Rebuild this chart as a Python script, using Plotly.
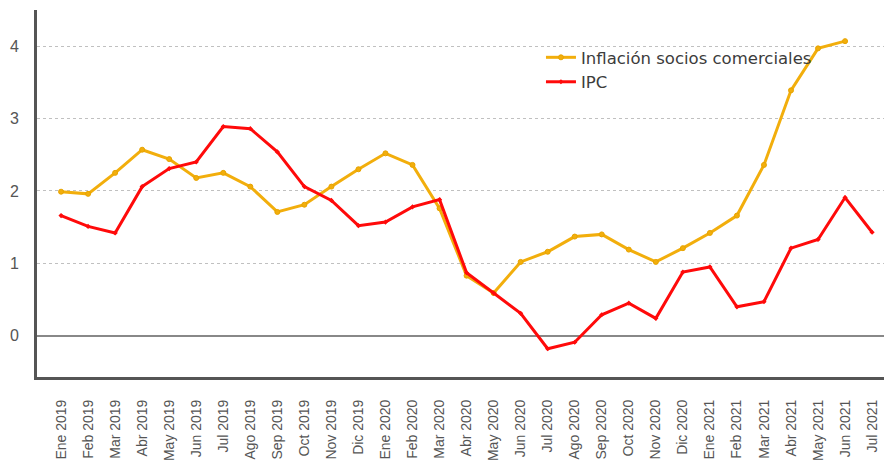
import plotly.graph_objects as go

meses = ["Ene 2019", "Feb 2019", "Mar 2019", "Abr 2019", "May 2019", "Jun 2019",
         "Jul 2019", "Ago 2019", "Sep 2019", "Oct 2019", "Nov 2019", "Dic 2019",
         "Ene 2020", "Feb 2020", "Mar 2020", "Abr 2020", "May 2020", "Jun 2020",
         "Jul 2020", "Ago 2020", "Sep 2020", "Oct 2020", "Nov 2020", "Dic 2020",
         "Ene 2021", "Feb 2021", "Mar 2021", "Abr 2021", "May 2021", "Jun 2021",
         "Jul 2021"]

socios = [1.99, 1.96, 2.25, 2.57, 2.44, 2.18, 2.25, 2.06, 1.71, 1.81, 2.06, 2.30,
          2.52, 2.36, 1.76, 0.83, 0.59, 1.02, 1.16, 1.37, 1.40, 1.19, 1.02, 1.21,
          1.42, 1.66, 2.36, 3.39, 3.97, 4.07, None]

ipc = [1.66, 1.51, 1.42, 2.06, 2.31, 2.40, 2.89, 2.86, 2.54, 2.06, 1.87, 1.52,
       1.57, 1.78, 1.88, 0.87, 0.59, 0.31, -0.18, -0.09, 0.29, 0.45, 0.24, 0.88,
       0.95, 0.40, 0.47, 1.21, 1.33, 1.91, 1.43]

y_ticks = [0, 1, 2, 3, 4]

x_idx = list(range(len(meses)))

fig = go.Figure()

fig.add_trace(go.Scatter(
    x=x_idx, y=socios, name="Inflación socios comerciales",
    mode="lines+markers",
    line=dict(color="#F2AE0C", width=3),
    marker=dict(symbol="circle", size=5, color="#F2AE0C",
                line=dict(color="#E8A400", width=1)),
    connectgaps=False,
))

fig.add_trace(go.Scatter(
    x=x_idx, y=ipc, name="IPC",
    mode="lines+markers",
    line=dict(color="#FF0A0A", width=3),
    marker=dict(symbol="diamond", size=4, color="#FF0A0A"),
))

fig.update_layout(
    width=886, height=470,
    margin=dict(l=37, r=2, t=10, b=93),
    paper_bgcolor="white",
    plot_bgcolor="white",
    showlegend=True,
    legend=dict(
        x=0.595, y=0.918, xanchor="left", yanchor="top",
        bgcolor="rgba(0,0,0,0)",
        font=dict(family="DejaVu Sans", size=16.5, color="#3c3c3c"),
        tracegroupgap=0, itemwidth=30,
    ),
    font=dict(family="Arial", color="#555555"),
)

fig.update_xaxes(
    range=[-0.89, 30.44],
    tickmode="array", tickvals=x_idx, ticktext=meses,
    tickangle=-90,
    tickfont=dict(family="Arial", size=14, color="#555555"),
    showgrid=False, zeroline=False,
    showline=True, linecolor="#555555", linewidth=3,
    ticks="", ticklabelstandoff=14,
)

fig.update_yaxes(
    range=[-0.57, 4.5],
    tickmode="array", tickvals=y_ticks,
    tickfont=dict(family="Arial", size=16, color="#555555"),
    showgrid=True, gridcolor="#c0c0c0", griddash="dot", gridwidth=1,
    zeroline=True, zerolinecolor="#888888", zerolinewidth=1.5,
    showline=True, linecolor="#555555", linewidth=3,
    ticks="", ticklabelstandoff=12,
)

fig.write_html("out.html")
